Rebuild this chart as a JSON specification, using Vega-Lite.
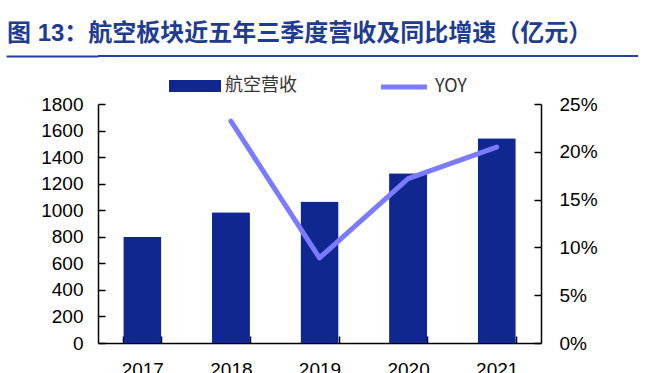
{
  "$schema": "https://vega.github.io/schema/vega-lite/v6.json",
  "padding": {"left": 5, "top": 22, "right": 0, "bottom": 0},
  "background": "white",
  "spacing": 12,
  "resolve": {"legend": {"color": "independent", "stroke": "independent"}},
  "config": {
    "font": "Liberation Sans, Noto Sans CJK SC",
    "view": {"stroke": null},
    "axis": {
      "labelFont": "Liberation Sans, Noto Sans CJK SC",
      "labelFontSize": 19,
      "labelColor": "#000000",
      "domainColor": "#000000",
      "domainWidth": 1.5,
      "tickColor": "#000000",
      "tickWidth": 1.5,
      "grid": false,
      "title": null
    },
    "legend": {"padding": 0, "labelFont": "Noto Sans CJK SC, Liberation Sans", "labelFontSize": 18, "labelColor": "#333333", "labelOffset": 17}
  },
  "vconcat": [
    {
      "width": 540,
      "height": 2,
      "view": {"fill": "#23439b", "stroke": null},
      "title": {
        "text": "图 13：航空板块近五年三季度营收及同比增速（亿元）",
        "anchor": "start",
        "frame": "bounds",
        "orient": "top",
        "offset": 4,
        "dx": 2,
        "font": "Liberation Sans, Noto Sans CJK SC",
        "fontSize": 24,
        "fontWeight": "bold",
        "color": "#1f3c8f"
      },
      "data": {"values": [{"t": ""}]},
      "mark": {"type": "text"},
      "encoding": {
        "text": {"field": "t", "type": "nominal"},
        "y": {
          "datum": 0.5,
          "type": "quantitative",
          "scale": {"domain": [0, 1]},
          "axis": {"values": [0.5], "labels": false, "domain": false, "tickSize": 92, "tickWidth": 2, "tickColor": "#23439b", "minExtent": 92, "maxExtent": 92}
        }
      }
    },
    {
      "resolve": {"legend": {"color": "independent", "stroke": "independent"}},
      "hconcat": [
        {
          "width": 443,
          "height": 239,
          "data": {
            "values": [
              {"year": "2017", "revenue": 800, "yoy": null},
              {"year": "2018", "revenue": 984, "yoy": 0.232},
              {"year": "2019", "revenue": 1065, "yoy": 0.089},
              {"year": "2020", "revenue": 1278, "yoy": 0.172},
              {"year": "2021", "revenue": 1542, "yoy": 0.205}
            ]
          },
          "encoding": {
            "x": {
              "field": "year",
              "type": "ordinal",
              "scale": {"paddingInner": 0.57, "paddingOuter": 0.285},
              "axis": {"labelAngle": 0, "tickBand": "extent", "tickSize": -7, "labelPadding": 24}
            }
          },
          "layer": [
            {
              "mark": {"type": "bar", "cornerRadiusTopLeft": 1, "cornerRadiusTopRight": 1},
              "encoding": {
                "y": {
                  "field": "revenue",
                  "type": "quantitative",
                  "scale": {"domain": [0, 1800], "nice": false},
                  "axis": {"values": [0, 200, 400, 600, 800, 1000, 1200, 1400, 1600, 1800], "format": "d", "tickSize": -7, "labelPadding": 22, "minExtent": 92, "maxExtent": 92}
                },
                "color": {
                  "datum": "航空营收",
                  "type": "nominal",
                  "scale": {"range": ["#10278f"]},
                  "legend": {
                    "orient": "none",
                    "legendX": 84,
                    "legendY": -31,
                    "title": null,
                    "symbolType": "M-2,-0.46H2V0.46H-2Z",
                    "symbolSize": 676,
                    "symbolStrokeWidth": 0
                  }
                }
              }
            },
            {
              "transform": [{"filter": "datum.yoy != null"}],
              "mark": {"type": "line", "strokeWidth": 5, "strokeCap": "round", "strokeJoin": "round"},
              "encoding": {
                "y": {
                  "field": "yoy",
                  "type": "quantitative",
                  "scale": {"domain": [0, 0.25], "nice": false},
                  "axis": {"orient": "right", "values": [0, 0.05, 0.1, 0.15, 0.2, 0.25], "format": ".0%", "tickSize": -7, "labelPadding": 25}
                },
                "stroke": {
                  "datum": "YOY",
                  "type": "nominal",
                  "scale": {"range": ["#7b7bff"]},
                  "legend": {
                    "orient": "none",
                    "legendX": 292,
                    "legendY": -31,
                    "title": null,
                    "symbolType": "M-2,0H2",
                    "symbolSize": 529,
                    "symbolStrokeWidth": 5,
                    "symbolFillColor": "transparent"
                  }
                }
              }
            }
          ],
          "resolve": {"scale": {"y": "independent"}}
        }
      ]
    }
  ]
}
